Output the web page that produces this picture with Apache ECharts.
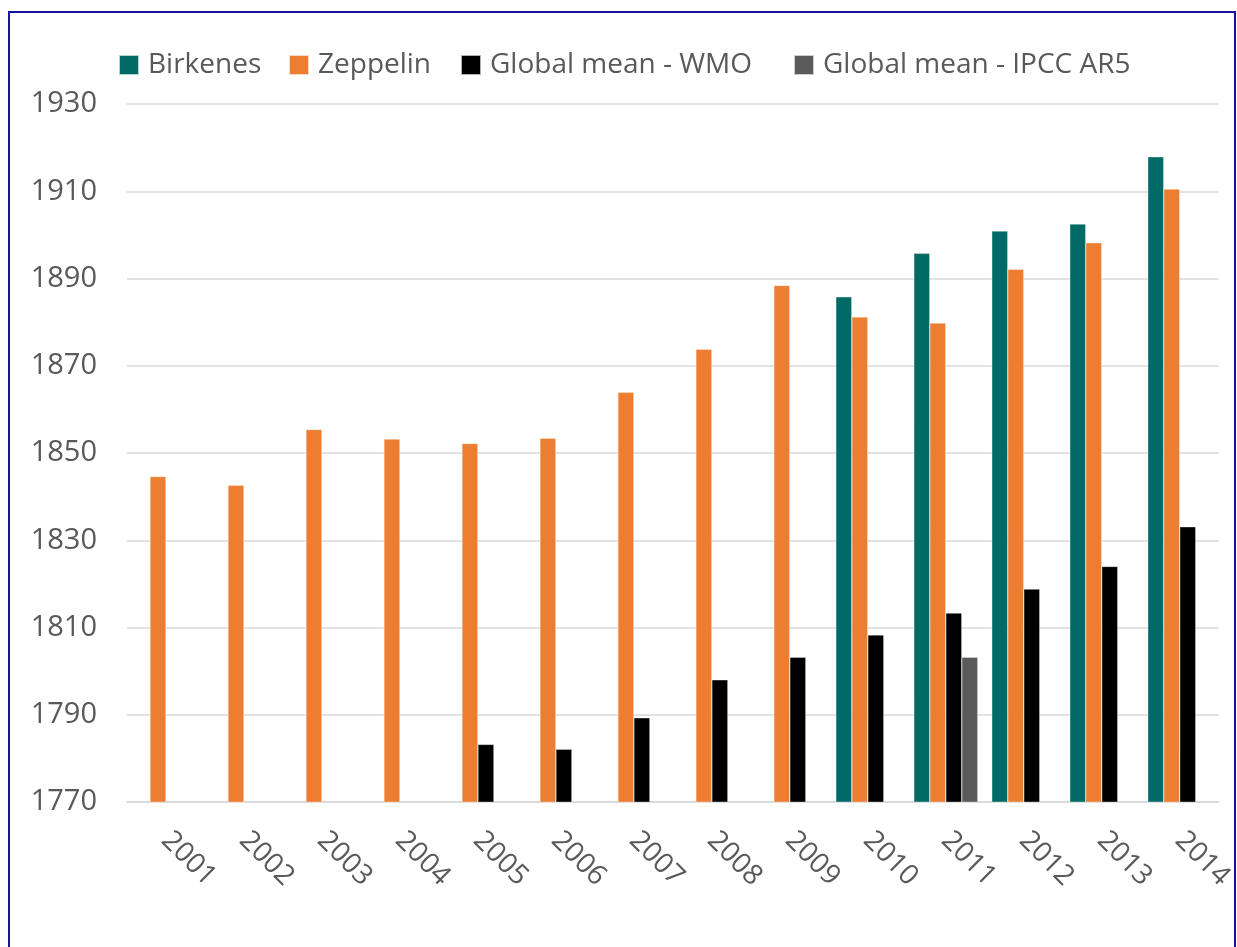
<!DOCTYPE html>
<html>
<head>
<meta charset="utf-8">
<title>Methane</title>
<script src="https://cdn.jsdelivr.net/npm/echarts@6/dist/echarts.min.js"></script>
<style>
  html, body { margin: 0; padding: 0; background: #fff; }
  #chart { position: absolute; left: 0; top: 0; width: 1237px; height: 947px; }
  #frame {
    position: absolute; left: 8px; top: 11px; width: 1224px; height: 1000px;
    border: 2px solid #14149a; pointer-events: none;
  }
</style>
</head>
<body>
<div id="chart"></div>
<div id="frame"></div>
<script>
// years on the x axis
var years = ['2001', '2002', '2003', '2004', '2005', '2006', '2007',
  '2008', '2009', '2010', '2011', '2012', '2013', '2014'];

// series values (null = no bar)
var birkenes = [null, null, null, null, null, null, null,
  null, null, 1885.8, 1895.8, 1900.9, 1902.5, 1917.9];
var zeppelin = [1844.6, 1842.6, 1855.4, 1853.2, 1852.2, 1853.4, 1863.9,
  1873.8, 1888.4, 1881.2, 1879.8, 1892.1, 1898.2, 1910.5];
var wmo = [null, null, null, null, 1783.2, 1782.1, 1789.3,
  1798.0, 1803.2, 1808.3, 1813.3, 1818.8, 1824.0, 1833.1];
var ipcc = [null, null, null, null, null, null, null,
  null, null, null, 1803.2, null, null, null];

var seriesNames = ['Birkenes', 'Zeppelin', 'Global mean - WMO', 'Global mean - IPCC AR5'];
var seriesColors = ['#026a66', '#ed7d31', '#000000', '#5a5a5a'];
var seriesData = [birkenes, zeppelin, wmo, ipcc];

var textColor = '#595959';
var fontFamily = '"Open Sans", sans-serif';

var chartInstance = echarts.init(document.getElementById('chart'));

// one legend per item so each can sit where the original has it
var legendLeft = [118, 288, 460, 793];
var legends = seriesNames.map(function (name, i) {
  return {
    data: [name],
    left: legendLeft[i],
    top: 51,
    padding: 0,
    itemWidth: 20,
    itemHeight: 20,
    icon: 'rect',
    textStyle: {
      color: textColor,
      fontSize: 28,
      fontFamily: fontFamily,
      padding: [0, 0, 0, 4]
    }
  };
});

var series = seriesNames.map(function (name, i) {
  return {
    name: name,
    type: 'bar',
    data: seriesData[i],
    barWidth: 16,
    barGap: '0%',
    itemStyle: {
      color: seriesColors[i],
      borderColor: 'rgba(255,255,255,0.7)',
      borderWidth: 0.5
    }
  };
});

var option = {
  animation: false,
  backgroundColor: '#fff',
  legend: legends,
  grid: {
    left: 127,
    right: 17,
    top: 104,
    bottom: 145
  },
  xAxis: {
    type: 'category',
    data: years,
    axisLine: {
      lineStyle: { color: '#d9d9d9', width: 1.5 }
    },
    axisTick: { show: false },
    axisLabel: {
      rotate: -45,
      margin: 34,
      color: textColor,
      fontSize: 28,
      fontFamily: fontFamily
    }
  },
  yAxis: {
    type: 'value',
    min: 1770,
    max: 1930,
    interval: 20,
    axisLine: { show: false },
    axisTick: { show: false },
    axisLabel: {
      margin: 30,
      color: textColor,
      fontSize: 29,
      fontFamily: fontFamily,
      formatter: function (v) {
        return String(v);
      }
    },
    splitLine: {
      lineStyle: { color: '#d9d9d9', width: 1.5 }
    }
  },
  series: series
};

chartInstance.setOption(option);
</script>
</body>
</html>
